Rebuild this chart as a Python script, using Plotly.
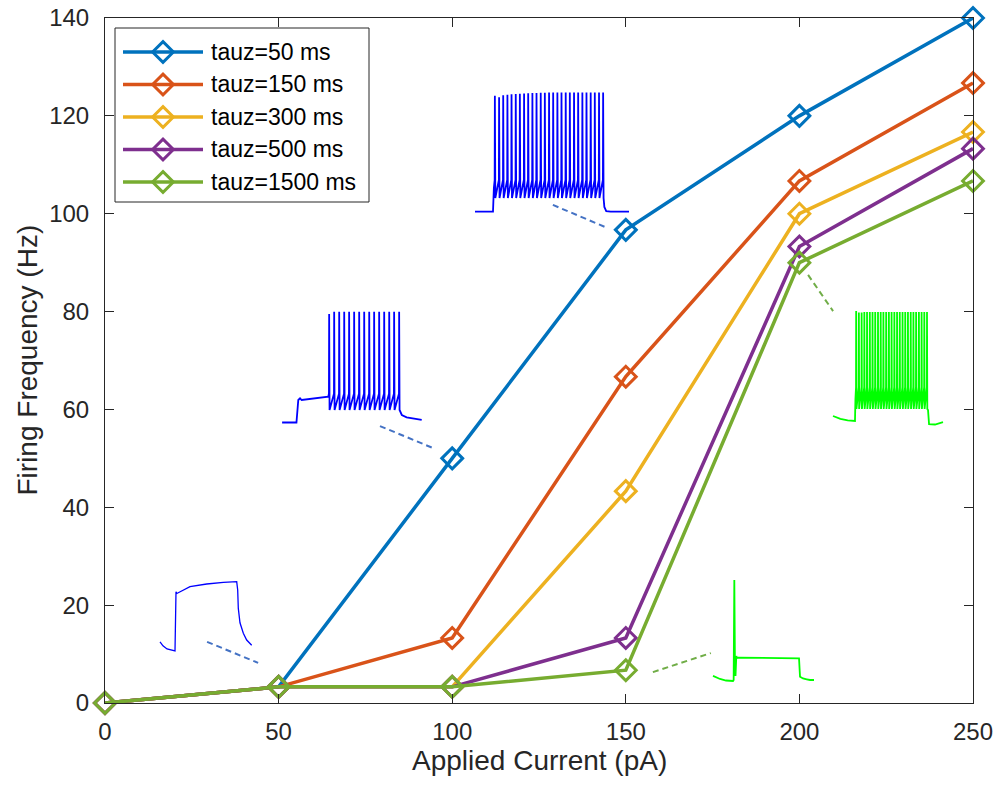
import plotly.graph_objects as go

# ---------------- main f-I data ----------------
current_pA = [0, 50, 100, 150, 200, 250]
series_names = ["tauz=50 ms", "tauz=150 ms", "tauz=300 ms", "tauz=500 ms", "tauz=1500 ms"]
freq_tauz50 = [0, 3.3, 50.0, 96.7, 120.0, 140.0]
freq_tauz150 = [0, 3.3, 13.3, 66.7, 106.7, 126.7]
freq_tauz300 = [0, 3.3, 3.3, 43.3, 100.0, 116.7]
freq_tauz500 = [0, 3.3, 3.3, 13.3, 93.3, 113.3]
freq_tauz1500 = [0, 3.3, 3.3, 6.7, 90.0, 106.7]
series_colors = ["#0072BD", "#D95319", "#EDB120", "#7E2F8E", "#77AC30"]

x_ticks = [0, 50, 100, 150, 200, 250]
y_ticks = [0, 20, 40, 60, 80, 100, 120, 140]

# ---------------- leader lines (data units) ----------------
leader_x0 = [29.4, 79.2, 129.0, 202.5, 157.8]
leader_y0 = [12.5, 56.6, 101.8, 87.5, 6.3]
leader_x1 = [44.1, 94.5, 144.0, 209.7, 174.5]
leader_y1 = [8.2, 52.1, 97.3, 80.1, 10.2]
leader_colors = ["#4472C4", "#4472C4", "#4472C4", "#70AD47", "#70AD47"]

# ---------------- voltage traces (t in ms, V in mV) ----------------
# 50 pA: subthreshold response
v50_t = [-242, -194, -129, -48, 0, 16, 30, 242, 511, 780, 995, 1011, 1021, 1048, 1102, 1156, 1237]
v50_v = [-68.4, -69.1, -69.65, -69.9, -70, -59.7, -60.0, -58.8, -58.35, -58.05, -57.95,
         -59.4, -62.6, -65.1, -66.9, -68.1, -69.0]

# 100 pA: delayed tonic firing
v100_pre_t = [-150, -10, 8, 25, 41, 300]
v100_pre_v = [-70, -70, -49.7, -48.2, -49.7, -46.7]
v100_spikes = [307, 356, 405, 454, 502, 551, 600, 649, 698, 746, 795, 844, 893, 941, 990]
v100_peaks = [28, 30, 30, 30, 30, 30, 30, 30, 30, 30, 30, 30, 30, 30, 30]
v100_thr, v100_trough = -44.0, -58.7
v100_post_t = [1018, 1065, 1212]
v100_post_v = [-63.2, -65.3, -67.7]

# 150 pA: fast tonic firing
v150_pre_t = [-162, 0, 8]
v150_pre_v = [-70, -70, -50]
v150_spikes = [15, 53, 90, 128, 165, 203, 240, 278, 315, 353, 390, 428, 465, 503,
               540, 578, 615, 653, 690, 728, 765, 803, 840, 878, 915, 953, 990]
v150_peaks = [27.3, 26.0, 27.6, 28.2, 28.5, 28.7, 29.0, 29.2, 29.4, 29.6, 29.6, 29.8, 29.8, 30,
              30, 30, 30, 30, 30, 30, 30, 30, 30, 30, 30, 30, 30]
v150_thr, v150_trough = -43.4, -58.5
v150_post_t = [1003, 1020, 1060, 1225]
v150_post_v = [-66, -69.5, -70, -70]

# 200 pA (tauz=1500): fast tonic firing
v200_pre_t = [-301, -200, -100, 0, 6]
v200_pre_v = [-65.4, -68.0, -69.4, -70, -50]
v200_spikes = [14, 51, 89, 126, 163, 201, 238, 275, 313, 350, 387, 425, 462, 499,
               537, 574, 611, 649, 686, 723, 761, 798, 835, 873, 910, 947, 984]
v200_peaks = [31, 29.5, 29.5, 30, 30, 30, 30, 30, 30, 30, 30, 30, 30, 30,
              30, 30, 30, 30, 30, 30, 30, 30, 30, 30, 30, 30, 30]
v200_thr, v200_trough = -39.0, -59.0
v200_post_t = [1000, 1014, 1096, 1205]
v200_post_v = [-60, -72.8, -73.2, -71.0]

# 150 pA (tauz=1500): single onset spike
v150s_t = [-303, -197, -106, 0, 10, 20, 30, 38, 50, 60, 76, 409, 1000, 1015, 1060, 1117, 1167, 1227]
v150s_v = [-65, -68, -69.5, -70, -69, 30, -59, -65, -45.3, -47.3, -46.9, -46.9, -47.5,
           -65.7, -67.5, -68.3, -69, -69]


def spike_train(pre_t, pre_v, spikes, peaks, thr, trough, post_t, post_v):
    t, v = list(pre_t), list(pre_v)
    for ts, pk in zip(spikes, peaks):
        t += [ts, ts + 2, ts + 6]
        v += [thr, pk, trough]
    return t + list(post_t), v + list(post_v)


v100_t, v100_v = spike_train(v100_pre_t, v100_pre_v, v100_spikes, v100_peaks,
                             v100_thr, v100_trough, v100_post_t, v100_post_v)
v150_t, v150_v = spike_train(v150_pre_t, v150_pre_v, v150_spikes, v150_peaks,
                             v150_thr, v150_trough, v150_post_t, v150_post_v)
v200_t, v200_v = spike_train(v200_pre_t, v200_pre_v, v200_spikes, v200_peaks,
                             v200_thr, v200_trough, v200_post_t, v200_post_v)

# ---------------- figure geometry ----------------
FIG_W, FIG_H = 997, 789
M_L, M_R, M_T, M_B = 105, 24, 18, 86
PW, PH = FIG_W - M_L - M_R, FIG_H - M_T - M_B
FONT = "Liberation Sans, Arial, Helvetica, sans-serif"
AX_COLOR = "#262626"


def px_to_paper_x(px):
    return (px - M_L) / PW


def px_to_paper_y(py):
    return (FIG_H - M_B - py) / PH


fig = go.Figure()

# leader lines from points to the inset traces
for x0, y0, x1, y1, c in zip(leader_x0, leader_y0, leader_x1, leader_y1, leader_colors):
    fig.add_trace(go.Scatter(x=[x0, x1], y=[y0, y1], mode="lines", showlegend=False,
                             hoverinfo="skip",
                             line=dict(color=c, width=2, dash="6px,4px")))

all_freqs = [freq_tauz50, freq_tauz150, freq_tauz300, freq_tauz500, freq_tauz1500]
MARKER = dict(symbol="diamond-open", size=16)
for name, ys, c in zip(series_names, all_freqs, series_colors):
    fig.add_trace(go.Scatter(
        x=current_pA, y=ys, name=name, mode="lines+markers", showlegend=False,
        line=dict(color=c, width=3.5),
        marker=dict(**MARKER, color=c, line=dict(color=c, width=3)),
        cliponaxis=False,
    ))


def inset(idx, t, v, px_x, px_y, color, width):
    """Place a voltage trace on its own hidden axes; px_x/px_y give the pixel
    extent of the trace's min/max time and (max, min) voltage."""
    tmin, tmax, vmin, vmax = min(t), max(t), min(v), max(v)
    sx = (px_x[1] - px_x[0]) / (tmax - tmin)
    sy = (px_y[1] - px_y[0]) / (vmax - vmin)
    pad = 4
    xr = [tmin - pad / sx, tmax + pad / sx]
    yr = [vmin - pad / sy, vmax + pad / sy]
    xd = [px_to_paper_x(px_x[0] - pad), px_to_paper_x(px_x[1] + pad)]
    yd = [px_to_paper_y(px_y[1] + pad), px_to_paper_y(px_y[0] - pad)]
    fig.add_trace(go.Scatter(x=t, y=v, mode="lines", showlegend=False, hoverinfo="skip",
                             line=dict(color=color, width=width),
                             xaxis=f"x{idx}", yaxis=f"y{idx}"))
    fig.update_layout(**{
        f"xaxis{idx}": dict(domain=xd, range=xr, visible=False, anchor=f"y{idx}", fixedrange=True),
        f"yaxis{idx}": dict(domain=yd, range=yr, visible=False, anchor=f"x{idx}", fixedrange=True),
    })


inset(2, v50_t, v50_v, (160, 251.7), (581.7, 651), "#0000FF", 1.3)
inset(3, v100_t, v100_v, (282.1, 421.7), (311.7, 422.5), "#0000FF", 1.8)
inset(4, v150_t, v150_v, (475, 629), (92.5, 211.7), "#0000FF", 1.8)
inset(5, v200_t, v200_v, (833, 943), (310.9, 424.5), "#00FF00", 1.8)
inset(6, v150s_t, v150s_v, (713, 814), (580, 681), "#00FF00", 1.8)

# ---------------- legend (own axes: sample line spans x 0..1, one row per series) ----------------
LEG_BOX = (115, 369, 28, 202)          # left, right, top, bottom in px
LEG_SYM = (123, 203)                   # sample-line extent in px
LEG_ROW0, LEG_ROW_H = 52, 32.5         # first row centre and row pitch in px
n_rows = len(series_names)
for i, (name, c) in enumerate(zip(series_names, series_colors)):
    fig.add_trace(go.Scatter(x=[0, 1], y=[i, i], mode="lines", showlegend=False, hoverinfo="skip",
                             line=dict(color=c, width=3.5), xaxis="x7", yaxis="y7"))
    fig.add_trace(go.Scatter(x=[0.5], y=[i], mode="markers", showlegend=False, hoverinfo="skip",
                             marker=dict(**MARKER, color=c, line=dict(color=c, width=3)),
                             xaxis="x7", yaxis="y7", cliponaxis=False))
    fig.add_annotation(x=1, y=i, xref="x7", yref="y7", text=name, showarrow=False,
                       xanchor="left", yanchor="middle", xshift=6,
                       font=dict(family=FONT, size=23, color="black"))
leg_top_px = LEG_ROW0 - LEG_ROW_H / 2
leg_bot_px = LEG_ROW0 + LEG_ROW_H * (n_rows - 0.5)
fig.update_layout(
    xaxis7=dict(domain=[px_to_paper_x(LEG_SYM[0]), px_to_paper_x(LEG_SYM[1])], range=[0, 1],
                visible=False, anchor="y7", fixedrange=True),
    yaxis7=dict(domain=[px_to_paper_y(leg_bot_px), px_to_paper_y(leg_top_px)],
                range=[n_rows - 0.5, -0.5], visible=False, anchor="x7", fixedrange=True),
)
fig.add_shape(type="rect", xref="paper", yref="paper", layer="below",
              x0=px_to_paper_x(LEG_BOX[0]), x1=px_to_paper_x(LEG_BOX[1]),
              y0=px_to_paper_y(LEG_BOX[3]), y1=px_to_paper_y(LEG_BOX[2]),
              line=dict(color=AX_COLOR, width=1), fillcolor="white")

# ---------------- axis titles ----------------
fig.add_annotation(x=0.5, y=px_to_paper_y(760), xref="paper", yref="paper",
                   text="Applied Current (pA)", showarrow=False, xanchor="center", yanchor="middle",
                   font=dict(family=FONT, size=28, color=AX_COLOR))
fig.add_annotation(x=px_to_paper_x(27), y=0.5, xref="paper", yref="paper",
                   text="Firing Frequency (Hz)", showarrow=False, textangle=-90,
                   xanchor="center", yanchor="middle",
                   font=dict(family=FONT, size=28, color=AX_COLOR))

axis_common = dict(
    showline=True, linecolor=AX_COLOR, linewidth=1, mirror="ticks",
    ticks="inside", ticklen=9, tickwidth=1, tickcolor=AX_COLOR,
    showgrid=False, zeroline=False, automargin=False,
    tickfont=dict(family=FONT, size=24, color=AX_COLOR),
)

fig.update_layout(
    width=FIG_W, height=FIG_H,
    margin=dict(l=M_L, r=M_R, t=M_T, b=M_B, autoexpand=False),
    paper_bgcolor="white", plot_bgcolor="rgba(0,0,0,0)",
    font=dict(family=FONT, color=AX_COLOR),
    xaxis=dict(range=[0, 250], tickvals=x_ticks, ticklabelstandoff=7, **axis_common),
    yaxis=dict(range=[0, 140], tickvals=y_ticks, ticklabelstandoff=10, **axis_common),
    showlegend=False,
)

fig.write_html("out.html")
